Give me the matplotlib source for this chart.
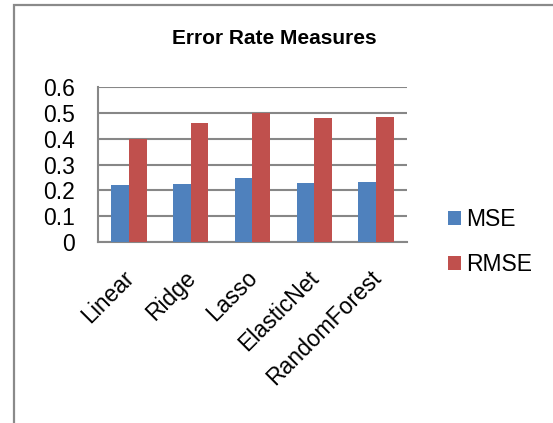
import matplotlib
matplotlib.use("Agg")
import matplotlib.pyplot as plt
import matplotlib.transforms as mtransforms
from matplotlib.patches import Rectangle
import numpy as np

models = ["Linear", "Ridge", "Lasso", "ElasticNet", "RandomForest"]
mse = [0.222, 0.226, 0.249, 0.228, 0.231]
rmse = [0.400, 0.461, 0.501, 0.480, 0.483]
y_ticks = [0, 0.1, 0.2, 0.3, 0.4, 0.5, 0.6]

blue = "#4F81BD"
red = "#C0504D"
grey = "#878787"

plt.rcParams["font.family"] = ["Liberation Sans", "DejaVu Sans"]

fig = plt.figure(figsize=(5.53, 4.23), dpi=100)
ax = fig.add_axes([0.1772, 0.4279, 0.5588, 0.3664])

# outer chart border
fig.patches.append(Rectangle((13.5 / 553, -0.1), 1.2, 1 - 5.5 / 423 + 0.1,
                             transform=fig.transFigure, fill=False,
                             edgecolor="#8a8a8a", linewidth=1.6))

x = np.arange(len(models))
w = 0.285
ax.bar(x - w / 2, mse, w, color=blue, label="MSE", zorder=3)
ax.bar(x + w / 2, rmse, w, color=red, label="RMSE", zorder=3)

ax.set_xlim(-0.5, len(models) - 0.5)
ax.set_ylim(0, 0.6)
ax.set_yticks(y_ticks)
ax.set_yticklabels(["0" if t == 0 else f"{t:.1f}" for t in y_ticks], fontsize=16.5)
ax.yaxis.grid(True, color=grey, linewidth=1.5, zorder=0)
ax.set_xticks(x)
ax.set_xticklabels(models, fontsize=16.5, rotation=45, ha="right",
                   rotation_mode="anchor")
ax.tick_params(axis="both", length=0)
ax.tick_params(axis="y", pad=16.5)
ax.tick_params(axis="x", pad=17.5)

# nudge the slanted category labels left so their ends sit over the bars
shift = mtransforms.ScaledTranslation(-5 / 72, 0, fig.dpi_scale_trans)
for lbl in ax.get_xticklabels():
    lbl.set_transform(lbl.get_transform() + shift)

for side in ["top", "right"]:
    ax.spines[side].set_visible(False)
for side in ["left", "bottom"]:
    ax.spines[side].set_color(grey)
    ax.spines[side].set_linewidth(1.5)

fig.text(274 / 553, 1 - 39 / 423, "Error Rate Measures", fontsize=15,
         fontweight="bold", ha="center", va="center")

fig.legend(loc="center left", bbox_to_anchor=(448 / 553, 1 - 242 / 423),
           frameon=False, fontsize=16.5, handlelength=0.57, handleheight=0.57,
           handletextpad=0.22, labelspacing=0.98, borderpad=0, borderaxespad=0)

fig.savefig("out.png", dpi=100)
